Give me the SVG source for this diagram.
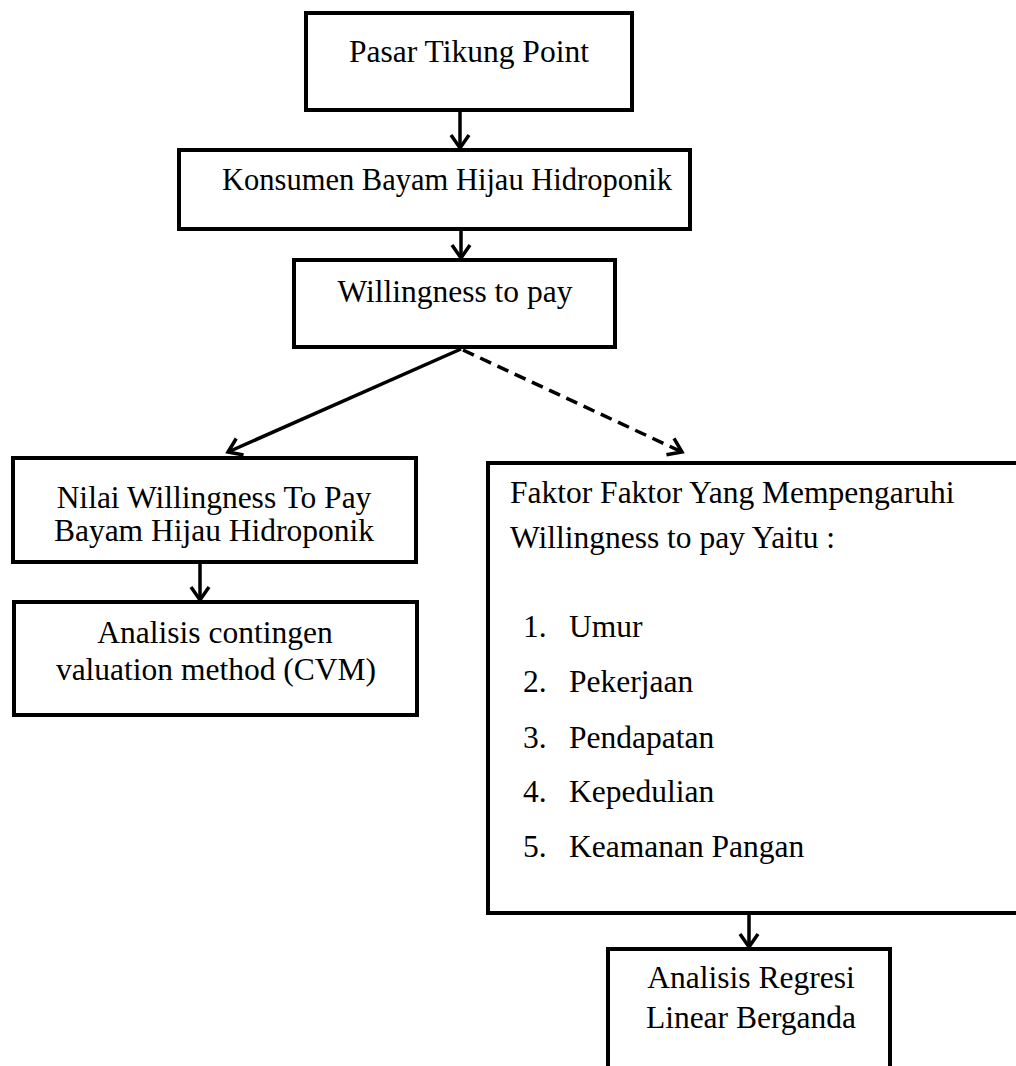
<svg xmlns="http://www.w3.org/2000/svg" width="1016" height="1066" viewBox="0 0 1016 1066">
  <style>
    .box { fill: #ffffff; stroke: #000000; stroke-width: 4; }
    .t { font-family: "Liberation Serif", "Times New Roman", serif; font-size: 31.5px; fill: #000000; }
    .c { text-anchor: middle; }
    .conn { fill: none; stroke: #000000; stroke-width: 3.5; }
    .dash { stroke-dasharray: 12 7; }
  </style>
  <defs>
    <marker id="arr" markerUnits="userSpaceOnUse" markerWidth="30" markerHeight="30" viewBox="-20 -15 30 30" refX="0" refY="0" orient="auto">
      <path d="M-13,-9 L0,0 L-13,9" fill="none" stroke="#000000" stroke-width="3.5" stroke-dasharray="none"/>
    </marker>
  </defs>
  <rect width="1016" height="1066" fill="#ffffff"/>

  <g id="connectors">
    <line class="conn" x1="460" y1="110" x2="460" y2="148" marker-end="url(#arr)"/>
    <line class="conn" x1="461" y1="230" x2="461" y2="258" marker-end="url(#arr)"/>
    <line class="conn" x1="461" y1="349" x2="228" y2="452" marker-end="url(#arr)"/>
    <line class="conn dash" x1="463" y1="350" x2="682" y2="452" marker-end="url(#arr)"/>
    <line class="conn" x1="200" y1="562" x2="200" y2="600" marker-end="url(#arr)"/>
    <line class="conn" x1="749" y1="913" x2="749" y2="947" marker-end="url(#arr)"/>
  </g>

  <g id="node-pasar">
    <rect class="box" x="306" y="13" width="326" height="97"/>
    <text class="t c" x="469" y="62">Pasar Tikung Point</text>
  </g>

  <g id="node-konsumen">
    <rect class="box" x="179" y="150" width="511" height="79"/>
    <text class="t c" x="447" y="190" style="font-size:30.5px">Konsumen Bayam Hijau Hidroponik</text>
  </g>

  <g id="node-wtp">
    <rect class="box" x="294" y="260" width="321" height="87"/>
    <text class="t c" x="455" y="302">Willingness to pay</text>
  </g>

  <g id="node-nilai">
    <rect class="box" x="13" y="458" width="403" height="104"/>
    <text class="t c" x="214" y="508">Nilai Willingness To Pay</text>
    <text class="t c" x="214" y="541">Bayam Hijau Hidroponik</text>
  </g>

  <g id="node-cvm">
    <rect class="box" x="14" y="602" width="403" height="113"/>
    <text class="t c" x="215" y="643">Analisis contingen</text>
    <text class="t c" x="216" y="680">valuation method (CVM)</text>
  </g>

  <g id="node-faktor">
    <rect class="box" x="488" y="463" width="540" height="450"/>
    <text class="t" x="510" y="503">Faktor Faktor Yang Mempengaruhi</text>
    <text class="t" x="510" y="548">Willingness to pay Yaitu :</text>
    <text class="t" x="523" y="637">1.</text><text class="t" x="569" y="637">Umur</text>
    <text class="t" x="523" y="692">2.</text><text class="t" x="569" y="692">Pekerjaan</text>
    <text class="t" x="523" y="748">3.</text><text class="t" x="569" y="748">Pendapatan</text>
    <text class="t" x="523" y="802">4.</text><text class="t" x="569" y="802">Kepedulian</text>
    <text class="t" x="523" y="857">5.</text><text class="t" x="569" y="857">Keamanan Pangan</text>
  </g>

  <g id="node-regresi">
    <rect class="box" x="608" y="949" width="282" height="140"/>
    <text class="t c" x="751" y="988">Analisis Regresi</text>
    <text class="t c" x="751" y="1028">Linear Berganda</text>
  </g>
</svg>
